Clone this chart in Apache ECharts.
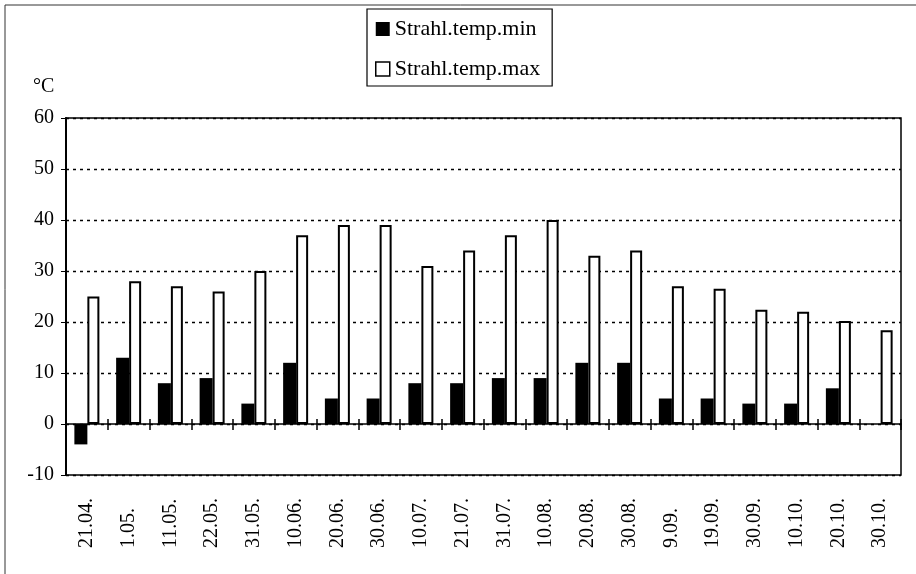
<!DOCTYPE html>
<html>
<head>
<meta charset="utf-8">
<script src="https://cdn.jsdelivr.net/npm/echarts@6/dist/echarts.min.js"></script>
<style>
html,body{margin:0;padding:0;background:#fff;}
#chart{width:916px;height:574px;}
</style>
</head>
<body>
<div id="chart"></div>
<script>
const categories = ['21.04.','1.05.','11.05.','22.05.','31.05.','10.06.','20.06.','30.06.','10.07.','21.07.','31.07.','10.08.','20.08.','30.08.','9.09.','19.09.','30.09.','10.10.','20.10.','30.10.'];
const tempMin = [-4, 13, 8, 9, 4, 12, 5, 5, 8, 8, 9, 9, 12, 12, 5, 5, 4, 4, 7, null];
const tempMax = [25, 28, 27, 26, 30, 37, 39, 39, 31, 34, 37, 40, 33, 34, 27, 26.5, 22.4, 22, 20.2, 18.4];
const seriesNames = ['Strahl.temp.min', 'Strahl.temp.max'];
const unitLabel = '°C';

const serif = 'Liberation Serif, Times New Roman, serif';
const blankLabel = { show: true, interval: 0, fontSize: 1, color: 'rgba(0,0,0,0)', formatter: function () { return ' '; } };
const chart = echarts.init(document.getElementById('chart'));
chart.setOption({
  animation: false,
  backgroundColor: '#fff',
  grid: { left: 66, top: 118, right: 15, bottom: 99, show: true, borderColor: '#000', borderWidth: 1.5, containLabel: false },
  legend: {
    orient: 'vertical', left: 367, top: 9,
    padding: [9, 12, 6, 8],
    borderColor: '#000', borderWidth: 1.2,
    itemWidth: 14, itemHeight: 14, itemGap: 18,
    icon: 'rect',
    textStyle: { fontFamily: serif, fontSize: 22, color: '#000' },
    data: [
      { name: seriesNames[0], itemStyle: { color: '#000' } },
      { name: seriesNames[1], itemStyle: { color: '#fff', borderColor: '#000', borderWidth: 1.5 } }
    ]
  },
  graphic: [
    { type: 'text', left: 33, top: 77, style: { text: unitLabel, font: '20px ' + serif, fill: '#000' } },
    { type: 'line', shape: { x1: 5, y1: 5, x2: 916, y2: 5 }, style: { stroke: '#333', lineWidth: 1 } },
    { type: 'line', shape: { x1: 5, y1: 5, x2: 5, y2: 574 }, style: { stroke: '#333', lineWidth: 1 } }
  ],
  xAxis: [
    {
      type: 'category', data: categories, position: 'bottom',
      axisLine: { show: false, onZero: false },
      axisTick: { show: false },
      axisLabel: { rotate: 90, align: 'left', verticalAlign: 'middle', margin: 73, fontFamily: serif, fontSize: 20, color: '#000', interval: 0 },
      splitLine: { show: false }
    },
    {
      type: 'category', data: categories, position: 'bottom',
      axisLine: { show: true, onZero: true, onZeroAxisIndex: 0, lineStyle: { color: '#000', width: 1.5 } },
      axisTick: { show: true, inside: false, interval: 0, length: 6, lineStyle: { color: '#000', width: 1.5 } },
      axisLabel: blankLabel,
      splitLine: { show: false }
    },
    {
      type: 'category', data: categories, position: 'bottom',
      axisLine: { show: false, onZero: true, onZeroAxisIndex: 0 },
      axisTick: { show: true, inside: true, interval: 0, length: 5, lineStyle: { color: '#000', width: 1.5 } },
      axisLabel: blankLabel,
      splitLine: { show: false }
    }
  ],
  yAxis: {
    type: 'value', min: -10, max: 60, interval: 10,
    axisLine: { show: true, lineStyle: { color: '#000', width: 2 } },
    axisTick: { show: true, inside: false, length: 5, lineStyle: { color: '#000' } },
    axisLabel: { fontFamily: serif, fontSize: 20, color: '#000', margin: 12 },
    splitLine: { show: true, lineStyle: { color: '#000', type: [3, 4], width: 1.3 } }
  },
  series: [
    {
      name: seriesNames[0], type: 'bar', xAxisIndex: 0, data: tempMin,
      barWidth: 13, barGap: '0%',
      itemStyle: { color: '#000' }
    },
    {
      name: seriesNames[1], type: 'bar', xAxisIndex: 0, data: tempMax,
      barWidth: 12, barGap: '0%',
      itemStyle: { color: '#fff', borderColor: '#000', borderWidth: 2 }
    }
  ]
});
</script>
</body>
</html>
